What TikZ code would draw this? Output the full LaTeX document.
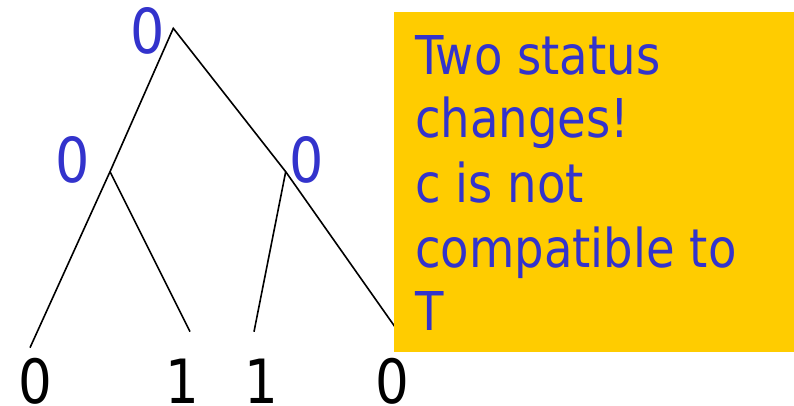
\documentclass[tikz,border=0pt]{standalone}
\usepackage{fontspec}
\setmainfont{DejaVu Sans}[FakeStretch=0.87]
\definecolor{lblue}{HTML}{3333CC}
\definecolor{gold}{HTML}{FFCC00}
\begin{document}
\begin{tikzpicture}[x=1pt,y=-1pt,
  edge/.style={draw=black,line width=1.6pt},
  inner/.style={text=lblue,inner sep=0pt,font=\fontsize{62}{62}\selectfont},
  leaf/.style={text=black,inner sep=0pt,font=\fontsize{61}{61}\selectfont},
  note/.style={text=lblue,inner sep=0pt,anchor=base west,font=\fontsize{53.5}{64}\selectfont}]
\useasboundingbox (0,0) rectangle (794,406);
% branch points
\coordinate (r) at (173.3,28.3);
\coordinate (a) at (110,171.7);
\coordinate (b) at (285.7,171.7);
\coordinate (la) at (30,347.7);
\coordinate (lb) at (190,331.7);
\coordinate (lc) at (254,331.7);
\coordinate (ld) at (400,334);
\draw[edge] (la) -- (a) -- (r) -- (b) -- (ld);
\draw[edge] (a) -- (lb);
\draw[edge] (b) -- (lc);
% labels
\node[inner] (rl) at (147.5,30.5) {0};
\node[inner] (al) at (72.5,159.5) {0};
\node[inner] (bl) at (307,159.5) {0};
\node[leaf] (n1) at (35,381) {0};
\node[leaf] (n2) at (182.5,381) {1};
\node[leaf] (n3) at (261,381) {1};
\node[leaf] (n4) at (392.5,381) {0};
% note box
\node (box) [fill=gold,inner sep=0pt,minimum width=400pt,minimum height=340pt,anchor=north west] at (394,12) {};
\node[note] (t1) at (415,75) {Two status};
\node[note] (t2) at (415,138) {changes!};
\node[note] (t3) at (415,202) {c is not};
\node[note] (t4) at (415,267) {compatible to};
\node[note] (t5) at (415,330) {T};
\end{tikzpicture}
\end{document}
